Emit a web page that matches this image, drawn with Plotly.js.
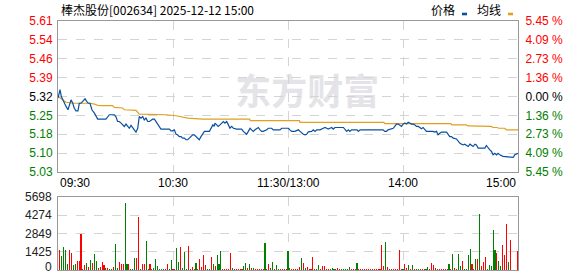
<!DOCTYPE html>
<html>
<head>
<meta charset="utf-8">
<script src="https://cdn.plot.ly/plotly-3.0.1.min.js"></script>
<style>
html,body{margin:0;padding:0;background:#fff;}
#chart{width:578px;height:276px;}
</style>
</head>
<body>
<div id="chart"></div>
<script>
// ---------- data ----------
const titleText = '棒杰股份[002634] 2025-12-12 15:00';
const preClose = 5.32;
const timeLabels = ['09:30', '10:30', '11:30/13:00', '14:00', '15:00'];
const timeLabelPos = [0, 60, 120, 180, 240];
const priceTickLabels = ['5.03', '5.10', '5.18', '5.25', '5.32', '5.39', '5.46', '5.54', '5.61'];
const pctTickLabels = ['5.45 %', '4.09 %', '2.73 %', '1.36 %', '0.00 %', '1.36 %', '2.73 %', '4.09 %', '5.45 %'];
const volTickLabels = ['0', '1425', '2849', '4274', '5698'];
const volMax = 5698;

const priceT = [0,1.05,1.74,2.44,3.3,4.2,5.2,5.9,6.8,7.7,8.5,9.4,10.4,11.1,12,12.9,14.1,15,15.8,16.7,17.7,19,19.8,20.7,25,25.9,26.8,29.4,30.3,31.1,32,32.9,33.7,34.6,35.5,36.4,37.2,38.1,39,39.8,40.7,41.6,42.4,43.3,44.2,45,45.9,46.8,47.7,48.5,49.4,50.3,51.1,52,52.9,53.7,58.1,59,59.8,60.7,61.6,62.4,63.3,64.2,65,65.9,66.8,67.7,68.5,69.4,70.3,71.1,72,72.9,73.7,74.6,75.5,76.4,79,
  80,80.8,81.5,81.9,82.8,83.6,84.5,85.4,86.3,87.1,88,88.9,89.7,90.6,91.5,93.2,95.8,96.7,97.6,98.4,99.3,100.2,101,101.9,102.8,104.5,105.4,106.3,107.1,108.9,109.7,111.5,112.3,115.8,116.7,120.2,121,121.9,123.6,125.4,126.3,127.1,128,128.9,129.7,130.6,131.5,132.3,133.2,134.1,135,136.7,138.4,139.3,140.2,141,141.9,142.8,143.6,144.5,148.9,149.7,150.6,151.5,152.3,153.2,156,156.7,157.6,
  159.2,169.6,170.5,171.4,172.2,174,174.9,175.7,176.6,177.5,178.3,179.2,180.1,180.9,181.8,182.7,183.5,184.4,185.3,186.2,187,187.9,188.8,189.6,190.5,191.4,192.2,195.7,196.6,197.5,198.3,199.2,200.1,202.7,203.5,204.4,205.3,206.2,207.9,208.8,209.6,210.5,211.4,212.2,213.1,214,214.9,215.7,216.6,217.5,218.3,219.2,222.7,223.5,224.4,225.3,226.2,227,227.9,228.8,229.6,230.5,232.2,235.7,237.5,238.3,240];
const priceV = [5.314,5.346,5.32,5.307,5.294,5.282,5.269,5.288,5.307,5.294,5.275,5.265,5.265,5.294,5.294,5.301,5.311,5.301,5.294,5.294,5.269,5.256,5.243,5.233,5.233,5.243,5.25,5.25,5.241,5.224,5.224,5.218,5.211,5.205,5.214,5.205,5.198,5.209,5.198,5.192,5.183,5.198,5.243,5.237,5.243,5.23,5.237,5.224,5.224,5.23,5.233,5.233,5.224,5.218,5.205,5.195,5.195,5.188,5.188,5.192,5.175,5.173,5.166,5.166,5.16,5.16,5.154,5.154,5.16,5.166,5.173,5.173,5.166,5.16,5.154,5.166,5.175,5.186,5.186,
  5.2,5.211,5.205,5.218,5.211,5.205,5.211,5.218,5.224,5.218,5.224,5.211,5.198,5.205,5.198,5.195,5.195,5.186,5.179,5.175,5.186,5.198,5.192,5.186,5.192,5.201,5.192,5.186,5.186,5.192,5.198,5.198,5.192,5.192,5.198,5.198,5.192,5.186,5.186,5.192,5.186,5.179,5.175,5.173,5.175,5.184,5.186,5.186,5.192,5.186,5.192,5.192,5.198,5.201,5.198,5.195,5.198,5.201,5.195,5.201,5.201,5.192,5.186,5.192,5.186,5.192,5.192,5.186,5.192,
  5.192,5.192,5.186,5.186,5.192,5.198,5.198,5.205,5.214,5.214,5.211,5.205,5.214,5.218,5.214,5.221,5.218,5.214,5.214,5.211,5.205,5.205,5.201,5.196,5.201,5.192,5.186,5.186,5.183,5.186,5.173,5.179,5.183,5.183,5.173,5.166,5.166,5.16,5.157,5.147,5.141,5.137,5.134,5.137,5.134,5.128,5.137,5.132,5.128,5.137,5.134,5.122,5.122,5.132,5.122,5.115,5.109,5.096,5.102,5.096,5.102,5.096,5.09,5.086,5.086,5.096,5.102];

const avgT = [0,2.4,4.2,7.7,16.7,19,20.7,23.3,28.5,29.4,33.7,34.6,40.7,42.4,56.4,61.6,67.7,75.5,100,100.3,126,126.3,170,170.5,205,205.5,213,214,220,221,226,227,229,230,233,234,240];
const avgV = [5.32,5.307,5.298,5.294,5.294,5.291,5.286,5.285,5.285,5.278,5.276,5.269,5.267,5.252,5.25,5.246,5.237,5.233,5.233,5.227,5.227,5.221,5.221,5.216,5.216,5.211,5.211,5.207,5.207,5.205,5.205,5.201,5.201,5.198,5.198,5.192,5.192];

// volume per minute, index 0..240
const volume = [0,
  1554,1088,1787,1554,466,1554,1347,363,466,725,
  673,2797,100,388,518,259,751,518,1217,700,
  181,259,596,388,181,130,80,80,259,1994,
  130,596,466,466,5258,466,466,80,80,906,
  958,4118,80,466,466,2253,80,466,80,130,
  855,310,80,80,80,80,466,80,777,80,
  80,1684,596,1787,181,1425,80,1865,80,259,
  80,518,80,855,259,1165,388,80,80,1036,
  466,310,1165,466,1476,80,80,80,80,1321,
  181,80,80,80,80,80,310,544,181,440,
  130,181,80,80,80,80,80,2098,80,466,
  181,596,80,388,80,80,80,80,80,1502,
  181,80,80,80,80,259,958,518,130,259,
  80,80,1036,80,80,388,80,310,310,80,
  80,80,155,80,80,155,80,80,80,80,
  80,233,80,80,80,544,80,80,80,80,
  80,80,80,80,80,80,80,80,1943,310,
  2176,233,80,80,80,80,80,1554,80,80,
  466,130,388,80,388,80,80,80,80,80,
  80,80,233,80,544,388,130,80,80,80,
  80,80,80,466,80,1243,155,80,1243,310,
  700,80,80,1165,1632,466,80,855,855,4403,
  310,596,1010,80,388,310,3108,1554,1295,700,
  310,1943,1165,3574,622,2331,0,0,0,1476];

// direction of each volume bar (u = up, d = down), index 0..240
const volDir = (
  'u' +
  'udddduuddu' + 'uuuudududd' + 'uuuududdud' + 'duuudduddd' +
  'uuduudduud' + 'ddddduuddu' + 'udduddduuu' + 'dduuuuuddu' +
  'duddduuuuu' + 'duuuuuddud' + 'uduuuuuduu' + 'ddudduuuud' +
  'duuuuududu' + 'uuuudduuuu' + 'udddduuddd' + 'dduuuduuuu' +
  'uuuuuuuuuu' + 'duuduuuuud' + 'uudududduu' + 'udduuuuduu' +
  'uuududuudd' + 'udddduudud' + 'uuudddddud' + 'duuuduuuuu'
).split('');
</script>
<script>
const volColors = volDir.map(d => d === 'u' ? '#ff0000' : '#008000');

// ---------- layout helpers ----------
const W = 578, H = 276;
const mL = 58, mR = 60, mT = 21, mB = 6;
const plotH = H - mT - mB;
const py = y => (H - mB - y) / plotH;      // pixel y -> paper y
const px = x => (x - mL) / (W - mL - mR);  // pixel x -> paper x

const lo = preClose * (1 - 0.0545), hi = preClose * (1 + 0.0545);
const priceTickVals = priceTickLabels.map((_, i) => lo + (hi - lo) * i / 8);
const tickCol = i => i < 4 ? '#008000' : (i === 4 ? '#000000' : '#ff0000');
const priceTickText = priceTickLabels.map((t, i) => `<span style="color:${tickCol(i)}">${t}</span>`);
const pctTickText = pctTickLabels.map((t, i) => `<span style="color:${tickCol(8 - i)}">${t}</span>`).reverse();
const volTickVals = volTickLabels.map((_, i) => volMax * i / 4);
const volTop = py(197);

const baseFont = {family: 'Liberation Sans, Arial, sans-serif', size: 12, color: '#000'};
const idx = volume.map((_, i) => i);

const traces = [
  {x: avgT, y: avgV, type: 'scatter', mode: 'lines', line: {color: '#e0a020', width: 1.2}, xaxis: 'x', yaxis: 'y', hoverinfo: 'skip'},
  {x: priceT, y: priceV, type: 'scatter', mode: 'lines', line: {color: '#0a50a0', width: 1.2}, xaxis: 'x', yaxis: 'y', hoverinfo: 'skip'},
  {x: [0, 240], y: [lo, hi], type: 'scatter', mode: 'none', xaxis: 'x', yaxis: 'y3', hoverinfo: 'skip', showlegend: false},
  {x: idx, y: volume, type: 'bar', marker: {color: volColors, line: {width: 0}}, width: 0.55, xaxis: 'x2', yaxis: 'y2', hoverinfo: 'skip'}
];

const gridCol = '#d4d4d4';
const layout = {
  width: W, height: H,
  margin: {l: mL, r: mR, t: mT, b: mB, pad: 0},
  paper_bgcolor: '#fff', plot_bgcolor: '#fff',
  showlegend: false,
  font: baseFont,
  xaxis: {
    domain: [0, 1], range: [0, 240], anchor: 'y',
    tickvals: [60, 120, 180], showticklabels: false, ticks: '',
    showgrid: true, gridcolor: gridCol, griddash: 'dash', gridwidth: 1,
    showline: true, mirror: true, linecolor: '#999', linewidth: 1, zeroline: false
  },
  yaxis: {
    domain: [py(172), 1], range: [lo, hi], anchor: 'x',
    tickvals: priceTickVals, ticktext: priceTickText,
    ticks: 'outside', ticklen: 2, tickcolor: 'rgba(0,0,0,0)',
    showgrid: true, gridcolor: gridCol, griddash: 'dash', gridwidth: 1,
    showline: true, mirror: true, linecolor: '#999', linewidth: 1, zeroline: false,
    tickfont: baseFont, ticklabeloverflow: 'allow'
  },
  yaxis3: {
    overlaying: 'y', side: 'right', range: [lo, hi], anchor: 'x',
    tickvals: priceTickVals, ticktext: pctTickText,
    ticks: 'outside', ticklen: 4, tickcolor: 'rgba(0,0,0,0)',
    showgrid: false, zeroline: false, showline: false,
    tickfont: baseFont, ticklabeloverflow: 'allow'
  },
  xaxis2: {
    domain: [0, 1], range: [0, 240], anchor: 'y2',
    tickvals: [60, 120, 180], showticklabels: false, ticks: '',
    showgrid: true, gridcolor: gridCol, griddash: 'dash', gridwidth: 1,
    showline: true, mirror: true, linecolor: '#999', linewidth: 1, zeroline: false
  },
  yaxis2: {
    domain: [0, volTop], range: [0, volMax], anchor: 'x2',
    tickvals: volTickVals, showticklabels: false, ticks: '',
    showgrid: true, gridcolor: gridCol, griddash: 'dash', gridwidth: 1,
    showline: true, mirror: true, linecolor: '#999', linewidth: 1, zeroline: false
  },
  bargap: 0,
  shapes: [
    {type: 'rect', xref: 'x', yref: 'y', x0: 92, x1: 168, y0: 5.255, y1: 5.395,
     line: {width: 0}, fillcolor: 'rgba(0,0,0,0)', layer: 'below',
     label: {text: '东方财富', font: {family: 'Noto Sans CJK SC', size: 36, color: '#e4e4e8', weight: 'bold'}, textposition: 'middle center'}},
    {type: 'rect', xref: 'paper', yref: 'paper', x0: px(462), x1: px(467), y0: py(15.3), y1: py(12.7),
     line: {width: 0}, fillcolor: '#0a50a0'},
    {type: 'rect', xref: 'paper', yref: 'paper', x0: px(508), x1: px(513), y0: py(15.3), y1: py(12.7),
     line: {width: 0}, fillcolor: '#e0a020'}
  ],
  annotations: [
    {text: titleText, xref: 'paper', yref: 'paper', x: px(59), y: py(9), xanchor: 'left', yanchor: 'middle',
     showarrow: false, font: {family: 'Noto Sans CJK SC, Liberation Sans', size: 12, color: '#000'}},
    {text: '价格', xref: 'paper', yref: 'paper', x: px(443), y: py(9), xanchor: 'center', yanchor: 'middle',
     showarrow: false, font: {family: 'Noto Sans CJK SC', size: 12, color: '#000'}},
    {text: '均线', xref: 'paper', yref: 'paper', x: px(489), y: py(9), xanchor: 'center', yanchor: 'middle',
     showarrow: false, font: {family: 'Noto Sans CJK SC', size: 12, color: '#000'}}
  ].concat(volTickLabels.map((t, i) => ({
    text: t, xref: 'paper', yref: 'paper', x: px(54), y: i === 0 ? py(267) : volTop * i / 4,
    xanchor: 'right', yanchor: 'middle', showarrow: false,
    font: Object.assign({}, baseFont, {color: '#222'})
  }))).concat(timeLabels.map((t, i) => ({
    text: t, xref: 'x', yref: 'paper', x: timeLabelPos[i], y: py(183),
    xanchor: i === 0 ? 'left' : (i === timeLabels.length - 1 ? 'right' : 'center'), yanchor: 'middle',
    showarrow: false, font: baseFont
  })))
};

Plotly.newPlot('chart', traces, layout, {staticPlot: true, displayModeBar: false});
</script>
</body>
</html>
